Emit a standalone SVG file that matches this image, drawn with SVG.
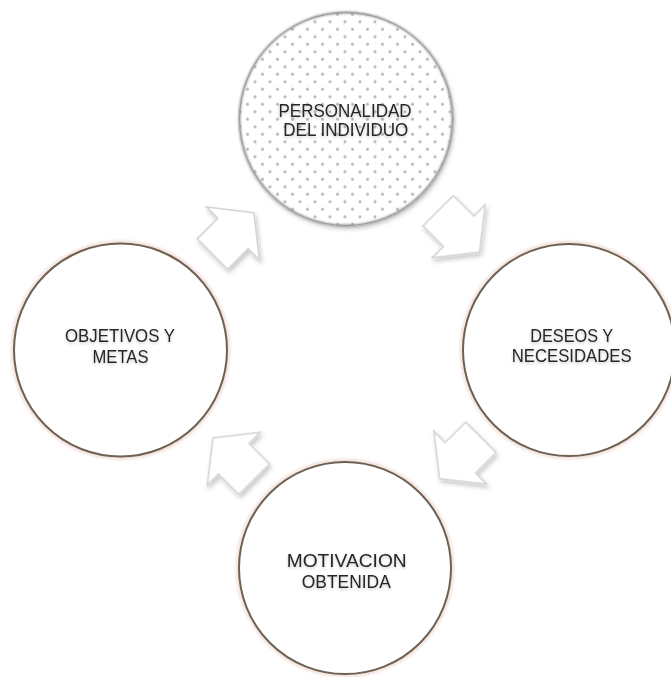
<svg xmlns="http://www.w3.org/2000/svg" width="671" height="677" viewBox="0 0 671 677">
  <defs>
    <style>
      .ring { fill: #ffffff; stroke: #6e6152; stroke-width: 2; }
      .halo { fill: none; stroke: #efd9d2; stroke-width: 5; opacity: 0.7; }
      .label { font-family: "Liberation Sans", Arial, sans-serif; font-size: 18px; fill: #262626; text-anchor: middle; }
      .arrow { fill: #ffffff; stroke: #d4d4d4; stroke-width: 1.6; stroke-linejoin: miter; }
      .dot { fill: #b8b8b8; }
    </style>
    <!-- dotted fill for the first stage -->
    <pattern id="dots" patternUnits="userSpaceOnUse" x="0" y="6.7" width="15" height="15">
      <circle class="dot" cx="0" cy="0" r="1.6"/>
      <circle class="dot" cx="15" cy="0" r="1.6"/>
      <circle class="dot" cx="0" cy="15" r="1.6"/>
      <circle class="dot" cx="15" cy="15" r="1.6"/>
      <circle class="dot" cx="7.5" cy="7.5" r="1.6"/>
    </pattern>
    <filter id="soft" x="-20%" y="-20%" width="140%" height="140%">
      <feGaussianBlur stdDeviation="1.2"/>
    </filter>
    <filter id="dotBlur" x="-5%" y="-5%" width="110%" height="110%">
      <feGaussianBlur stdDeviation="0.5"/>
    </filter>
    <filter id="shadow" x="-30%" y="-30%" width="160%" height="160%">
      <feDropShadow dx="1.5" dy="3" stdDeviation="2" flood-color="#000000" flood-opacity="0.22"/>
    </filter>
    <filter id="textShadow" x="-20%" y="-50%" width="140%" height="200%">
      <feDropShadow dx="0" dy="1.5" stdDeviation="1.5" flood-color="#000000" flood-opacity="0.22"/>
    </filter>
    <!-- block arrow pointing along +x, centred on the origin -->
    <polygon id="blockArrow" points="-29,-21.5 0,-21.5 0,-37.5 29.5,0 0,37.5 0,21.5 -29,21.5"/>
  </defs>

  <rect width="671" height="677" fill="#ffffff"/>

  <!-- connectors: hollow arrows between the stages -->
  <g id="connectors" filter="url(#shadow)">
    <use href="#blockArrow" class="arrow" transform="translate(233,233.5) rotate(-45)"/>
    <use href="#blockArrow" class="arrow" transform="translate(458.7,231.3) rotate(45)"/>
    <use href="#blockArrow" class="arrow" transform="translate(460.4,457.8) rotate(135)"/>
    <use href="#blockArrow" class="arrow" transform="translate(233.8,458.8) rotate(-135)"/>
  </g>

  <g id="personalidad">
    <circle cx="346" cy="119" r="107" fill="#ffffff" filter="url(#shadow)"/>
    <circle cx="346" cy="119" r="107" fill="url(#dots)" filter="url(#dotBlur)"/>
    <circle cx="346" cy="119" r="106.5" fill="none" stroke="#8c8c8c" stroke-width="1.8" filter="url(#soft)"/>
    <circle cx="346" cy="119" r="106.5" fill="none" stroke="#9a9a9a" stroke-width="1"/>
    <g filter="url(#textShadow)">
      <text class="label" x="345" y="117" textLength="133" lengthAdjust="spacingAndGlyphs">PERSONALIDAD</text>
      <text class="label" x="345.8" y="136" textLength="125" lengthAdjust="spacingAndGlyphs">DEL INDIVIDUO</text>
    </g>
  </g>

  <g id="deseos">
    <circle class="halo" cx="569" cy="350" r="107" filter="url(#soft)"/>
    <circle class="ring" cx="569" cy="350" r="106"/>
    <g filter="url(#textShadow)">
      <text class="label" x="571.7" y="342" textLength="83" lengthAdjust="spacingAndGlyphs">DESEOS Y</text>
      <text class="label" x="571.7" y="362" textLength="120" lengthAdjust="spacingAndGlyphs">NECESIDADES</text>
    </g>
  </g>

  <g id="motivacion">
    <circle class="halo" cx="345" cy="568" r="107" filter="url(#soft)"/>
    <circle class="ring" cx="345" cy="568" r="106"/>
    <g filter="url(#textShadow)">
      <text class="label" x="346.7" y="567" textLength="120" lengthAdjust="spacingAndGlyphs">MOTIVACION</text>
      <text class="label" x="346.3" y="588" textLength="89" lengthAdjust="spacingAndGlyphs">OBTENIDA</text>
    </g>
  </g>

  <g id="objetivos">
    <circle class="halo" cx="120.5" cy="350" r="107.5" filter="url(#soft)"/>
    <circle class="ring" cx="120.5" cy="350" r="106.5"/>
    <g filter="url(#textShadow)">
      <text class="label" x="120" y="342" textLength="110" lengthAdjust="spacingAndGlyphs">OBJETIVOS Y</text>
      <text class="label" x="120.5" y="363" textLength="56" lengthAdjust="spacingAndGlyphs">METAS</text>
    </g>
  </g>
</svg>
